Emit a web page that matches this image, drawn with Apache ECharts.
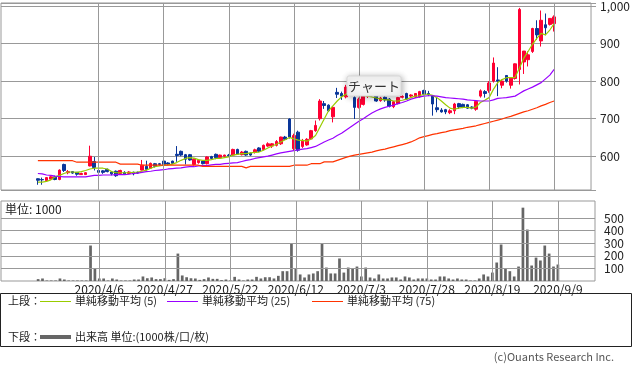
<!DOCTYPE html>
<html><head><meta charset="utf-8">
<script src="https://cdn.jsdelivr.net/npm/echarts/dist/echarts.min.js"></script>
<style>html,body{margin:0;padding:0;background:#fff}#c{width:633px;height:374px}</style>
</head><body><div id="c"></div>
<script>
const leadDates = ['2020/3/4','2020/3/5','2020/3/6','2020/3/9','2020/3/10','2020/3/11','2020/3/12','2020/3/13'];
const dates = ['2020/3/16','2020/3/17','2020/3/18','2020/3/19','2020/3/23','2020/3/24','2020/3/25','2020/3/26','2020/3/27','2020/3/30','2020/3/31','2020/4/1','2020/4/2','2020/4/3',
'2020/4/6','2020/4/7','2020/4/8','2020/4/9','2020/4/10','2020/4/13','2020/4/14','2020/4/15','2020/4/16','2020/4/17','2020/4/20','2020/4/21','2020/4/22','2020/4/23','2020/4/24',
'2020/4/27','2020/4/28','2020/4/30','2020/5/1','2020/5/7','2020/5/8','2020/5/11','2020/5/12','2020/5/13','2020/5/14','2020/5/15','2020/5/18','2020/5/19','2020/5/20','2020/5/21',
'2020/5/22','2020/5/25','2020/5/26','2020/5/27','2020/5/28','2020/5/29','2020/6/1','2020/6/2','2020/6/3','2020/6/4','2020/6/5','2020/6/8','2020/6/9','2020/6/10','2020/6/11',
'2020/6/12','2020/6/15','2020/6/16','2020/6/17','2020/6/18','2020/6/19','2020/6/22','2020/6/23','2020/6/24','2020/6/25','2020/6/26','2020/6/29','2020/6/30','2020/7/1','2020/7/2',
'2020/7/3','2020/7/6','2020/7/7','2020/7/8','2020/7/9','2020/7/10','2020/7/13','2020/7/14','2020/7/15','2020/7/16','2020/7/17','2020/7/20','2020/7/21','2020/7/22','2020/7/27',
'2020/7/28','2020/7/29','2020/7/30','2020/7/31','2020/8/3','2020/8/4','2020/8/5','2020/8/6','2020/8/7','2020/8/11','2020/8/12','2020/8/13','2020/8/14','2020/8/17','2020/8/18',
'2020/8/19','2020/8/20','2020/8/21','2020/8/24','2020/8/25','2020/8/26','2020/8/27','2020/8/28','2020/8/31','2020/9/1','2020/9/2','2020/9/3','2020/9/4','2020/9/7','2020/9/8','2020/9/9'];
const trailDates = ['2020/9/10','2020/9/11','2020/9/14','2020/9/15','2020/9/16','2020/9/17','2020/9/18','2020/9/23'];
const labelDates = ['2020/4/6','2020/4/27','2020/5/22','2020/6/12','2020/7/3','2020/7/28','2020/8/19','2020/9/9'];

const opens = [540,538,535,539,545,538,578,556,559,557,551,551,574,586,
562,561,565,558,560,554,557,554,557,557,563,573,568,580,580,
587,582,587,605,613,604,604,578,583,587,580,599,605,596,600,
603,603,618,604,613,608,610,622,618,627,627,629,633,651,699,
620,664,626,630,646,668,700,740,736,705,770,767,758,786,756,
730,738,760,768,760,748,757,752,732,740,757,767,760,757,758,
775,767,760,729,723,724,716,721,740,738,737,731,725,760,772,
775,800,803,789,815,789,807,831,851,857,879,940,907,950,951,953];
const closes = [536,537,543,545,538,563,562,559,555,552,554,556,600,570,
557,557,559,553,548,562,553,558,553,555,576,565,581,573,578,
578,579,581,602,603,592,590,592,589,580,598,594,596,603,603,
601,618,605,611,603,603,617,613,629,633,633,639,651,645,651,
655,616,640,645,668,682,747,735,721,730,765,760,784,790,730,
752,760,768,762,747,755,750,733,745,756,759,752,763,767,772,
765,764,739,724,718,718,721,739,731,730,728,728,746,774,767,
795,848,800,800,800,808,846,991,880,870,940,923,962,942,967,971];
const lows = [524,524,534,538,536,536,558,552,553,548,550,550,573,562,
555,553,557,549,545,551,550,552,549,553,562,562,566,570,575,
576,576,579,585,600,578,588,575,580,578,578,592,592,594,599,
598,601,604,602,601,601,607,611,616,625,622,626,630,643,647,
615,612,622,628,644,665,695,726,718,690,755,750,754,780,699,
727,735,755,758,745,745,745,730,728,738,754,750,757,755,756,
762,760,708,717,716,712,712,712,726,728,726,725,721,756,756,
769,796,760,781,796,780,804,791,819,839,875,910,892,922,948,932];
const highs = [541,543,544,547,548,565,580,563,560,558,556,557,628,598,
565,563,567,560,562,564,560,560,559,559,590,588,583,582,582,
589,584,588,627,615,606,606,594,591,589,600,601,607,604,604,
606,620,620,614,615,610,620,624,631,637,635,643,652,654,701,
660,668,646,648,670,695,752,747,738,733,782,772,790,795,760,
756,763,772,772,763,758,760,755,747,758,762,769,765,768,774,
777,774,762,756,728,726,725,742,742,740,739,733,748,778,776,
800,863,837,804,816,810,847,995,880,879,942,962,988,980,968,975];
const ma5 = [531,531,533,537,545,549,554,558,558,557,559,562,566,568,
568,568,566,559,556,556,556,556,557,558,560,563,568,572,574,
576,577,579,583,589,594,596,595,591,589,589,591,594,594,596,
598,603,605,607,607,609,610,611,616,622,627,632,638,644,650,
646,643,642,640,646,655,677,699,721,734,747,758,765,772,765,
763,762,760,758,755,752,750,750,747,747,749,752,756,760,761,
765,765,762,756,747,737,728,725,728,730,730,728,731,743,749,
756,778,796,804,809,809,810,835,861,879,898,914,927,923,936,953];
const ma25 = [554,553,550,549,547,546,545,545,545,545,545,545,547,549,
549,550,550,550,551,551,551,552,554,555,557,559,560,562,563,
564,566,567,568,569,571,572,572,574,575,575,577,578,578,580,
581,582,583,586,589,591,594,596,598,600,603,606,609,611,613,
615,617,619,620,623,626,632,638,643,648,655,661,669,677,685,
693,700,708,715,721,726,730,733,736,740,743,747,752,755,758,
760,761,761,760,758,756,755,754,753,752,750,749,748,747,747,
747,750,754,755,756,758,760,767,774,779,784,790,796,806,816,831];
const ma75 = [588,588,588,588,588,588,588,588,588,584,584,584,584,584,
584,584,584,584,584,579,579,579,579,579,576,576,576,576,576,
576,576,576,576,576,576,576,576,576,573,573,573,573,573,573,
573,573,573,573,569,573,573,573,573,573,573,573,573,573,573,
576,576,576,576,580,580,580,585,585,585,589,593,597,600,603,
605,607,609,611,614,617,619,622,625,628,631,634,638,643,649,
652,655,658,660,663,665,668,670,672,674,677,679,681,684,687,
690,693,696,699,703,706,710,714,718,721,725,729,734,738,743,747];
const volumes = [15,20,4,4,4,20,12,4,4,4,4,4,282,102,
20,20,4,20,12,4,4,4,12,12,36,22,28,15,15,
22,9,15,218,44,30,22,20,9,15,28,17,17,7,12,
4,33,12,4,12,12,33,20,30,30,20,41,78,78,300,
99,52,28,52,60,78,300,107,60,60,179,67,107,99,115,
36,107,28,20,52,20,20,28,28,12,36,28,12,20,20,
20,12,12,36,36,20,12,20,12,12,4,4,20,52,36,
67,147,290,99,78,36,115,583,409,123,186,163,282,218,115,131];
const priceTicks = [600,700,800,900,1000];
const volumeTicks = [100,200,300,400,500];

const FONT = "'Noto Sans CJK JP', 'Noto Sans', sans-serif";
const categories = leadDates.concat(dates, trailDates);
const padL = leadDates.length, padR = trailDates.length;
function full(arr){ return Array(padL).fill('-').concat(arr, Array(padR).fill('-')); }
const candleData = Array(padL).fill(['-','-','-','-'])
  .concat(dates.map((d,i)=>[opens[i],closes[i],lows[i],highs[i]]))
  .concat(Array(padR).fill(['-','-','-','-']));
const labelSet = new Set(labelDates);
const fmt = v => String(v).replace(/\B(?=(\d{3})+(?!\d))/g, ',');

const chart = echarts.init(document.getElementById('c'), null, {renderer:'canvas'});
const gridLine = {color:'#999', width:1, type:'solid'};
const option = {
  animation:false,
  backgroundColor:'#fff',
  textStyle:{fontFamily:FONT},
  grid:[
    {left:1, width:594, top:1, height:189, show:true, borderColor:'#999', borderWidth:1, backgroundColor:'#fff'},
    {left:1, width:594, top:201, height:80, show:true, borderColor:'#999', borderWidth:1, backgroundColor:'#fff'}
  ],
  xAxis:[
    {type:'category', gridIndex:0, data:categories, boundaryGap:true,
     axisLine:{show:false}, axisTick:{show:false}, axisLabel:{show:false}, splitLine:{show:false}},
    {type:'category', gridIndex:1, data:categories, boundaryGap:true,
     axisLine:{show:false}, axisTick:{show:false}, splitLine:{show:false},
     axisLabel:{show:true, interval:(idx,val)=>labelSet.has(val), fontSize:12, color:'#222', margin:2, fontFamily:FONT}}
  ],
  yAxis:[
    {type:'value', gridIndex:0, position:'right', min:510, max:1008, splitNumber:5,
     axisLine:{show:false}, axisTick:{show:true, length:5, lineStyle:{color:'#999'}},
     axisLabel:{margin:9, fontSize:12, color:'#222', fontFamily:FONT, formatter:v=>priceTicks.includes(v)?fmt(v):''},
     splitLine:{show:true, lineStyle:gridLine}},
    {type:'value', gridIndex:1, position:'right', min:0, max:636, interval:100,
     axisLine:{show:false}, axisTick:{show:false},
     axisLabel:{margin:9, fontSize:12, color:'#222', fontFamily:FONT, formatter:v=>volumeTicks.includes(v)?String(v):''},
     splitLine:{show:false}}
  ],
  series:[
    {type:'line', xAxisIndex:0, yAxisIndex:0, data:full(dates.map(()=>'-')), z:1, silent:true,
     markLine:{silent:true, symbol:['none','none'], label:{show:false}, lineStyle:gridLine, animation:false,
       data:labelDates.map(d=>({xAxis:d}))}},
    {type:'line', xAxisIndex:1, yAxisIndex:1, data:full(dates.map(()=>'-')), z:1, silent:true,
     markLine:{silent:true, symbol:['none','none'], label:{show:false}, lineStyle:gridLine, animation:false,
       data:labelDates.map(d=>({xAxis:d})).concat(volumeTicks.map(v=>({yAxis:v})))}},
    {type:'candlestick', name:'price', xAxisIndex:0, yAxisIndex:0, data:candleData, z:3, barWidth:'72%',
     itemStyle:{color:'#ff0033', color0:'#0a3699', borderColor:'#ff0033', borderColor0:'#0a3699', borderWidth:1}},
    {type:'line', name:'単純移動平均 (5)', xAxisIndex:0, yAxisIndex:0, data:full(ma5), z:4, showSymbol:false, symbol:'none',
     lineStyle:{color:'#99cc00', width:1.2}},
    {type:'line', name:'単純移動平均 (25)', xAxisIndex:0, yAxisIndex:0, data:full(ma25), z:4, showSymbol:false, symbol:'none',
     lineStyle:{color:'#9900ff', width:1.2}},
    {type:'line', name:'単純移動平均 (75)', xAxisIndex:0, yAxisIndex:0, data:full(ma75), z:4, showSymbol:false, symbol:'none',
     lineStyle:{color:'#ff3300', width:1.2}},
    {type:'bar', name:'出来高', xAxisIndex:1, yAxisIndex:1, data:full(volumes), z:3, barWidth:'62%',
     itemStyle:{color:'#666'}}
  ],
  graphic:[
    {type:'text', x:5, y:209, style:{text:'単位: 1000', font:'12px '+FONT, fill:'#222', verticalAlign:'middle', textVerticalAlign:'middle'}},
    {type:'rect', shape:{x:0.5, y:293.5, width:631, height:53}, style:{fill:'none', stroke:'#222', lineWidth:1}},
    {type:'text', x:8, y:301, style:{text:'上段：', font:'11px '+FONT, fill:'#222', verticalAlign:'middle', textVerticalAlign:'middle'}},
    {type:'line', shape:{x1:40, y1:301.5, x2:71, y2:301.5}, style:{stroke:'#99cc00', lineWidth:1}},
    {type:'text', x:75, y:301, style:{text:'単純移動平均 (5)', font:'11px '+FONT, fill:'#222', verticalAlign:'middle', textVerticalAlign:'middle'}},
    {type:'line', shape:{x1:167, y1:301.5, x2:198, y2:301.5}, style:{stroke:'#9900ff', lineWidth:1}},
    {type:'text', x:202, y:301, style:{text:'単純移動平均 (25)', font:'11px '+FONT, fill:'#222', verticalAlign:'middle', textVerticalAlign:'middle'}},
    {type:'line', shape:{x1:312, y1:301.5, x2:343, y2:301.5}, style:{stroke:'#ff3300', lineWidth:1}},
    {type:'text', x:347, y:301, style:{text:'単純移動平均 (75)', font:'11px '+FONT, fill:'#222', verticalAlign:'middle', textVerticalAlign:'middle'}},
    {type:'text', x:8, y:337, style:{text:'下段：', font:'11px '+FONT, fill:'#222', verticalAlign:'middle', textVerticalAlign:'middle'}},
    {type:'line', shape:{x1:40, y1:337, x2:71, y2:337}, style:{stroke:'#666', lineWidth:4}},
    {type:'text', x:75, y:337, style:{text:'出来高 単位:(1000株/口/枚)', font:'11px '+FONT, fill:'#222', verticalAlign:'middle', textVerticalAlign:'middle'}},
    {type:'text', x:614, y:357, style:{text:'(c)Ouants Research Inc.', font:'11px '+FONT, fill:'#555', align:'right', textAlign:'right', verticalAlign:'middle', textVerticalAlign:'middle'}},
    {type:'rect', z:100, shape:{x:347, y:76, width:54, height:20, r:2}, style:{fill:'#f6f6f6', stroke:'#d8d8d8', lineWidth:1, shadowBlur:6, shadowColor:'rgba(0,0,0,0.3)', shadowOffsetX:1, shadowOffsetY:1}},
    {type:'text', z:101, x:374, y:86, style:{text:'チャート', font:'13px '+FONT, fill:'#333', align:'center', textAlign:'center', verticalAlign:'middle', textVerticalAlign:'middle'}}
  ]
};
chart.setOption(option);
</script></body></html>
